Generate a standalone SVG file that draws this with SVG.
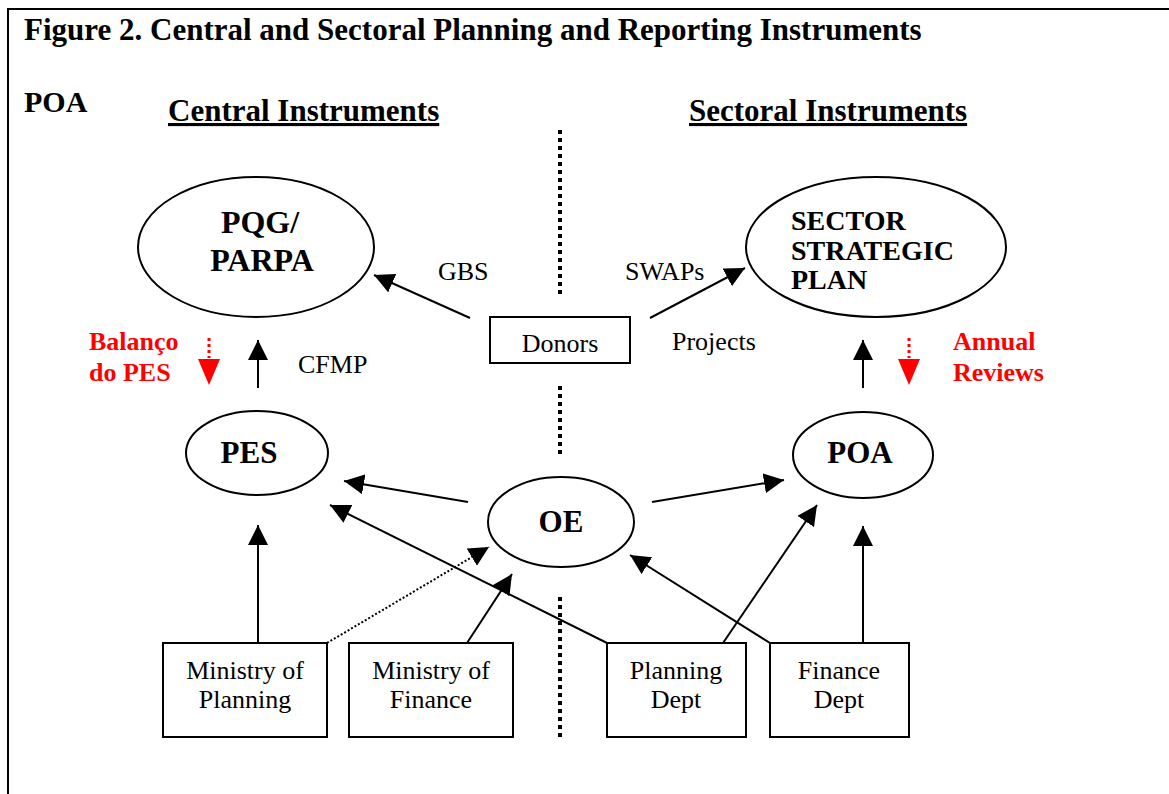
<svg xmlns="http://www.w3.org/2000/svg" width="1169" height="794" viewBox="0 0 1169 794">
  <style>
    text { font-family: "Liberation Serif", "Times New Roman", serif; fill: #000; }
    .title { font-size: 31px; font-weight: bold; }
    .head { font-size: 31px; font-weight: bold; text-decoration: underline; }
    .big { font-size: 31px; font-weight: bold; }
    .mid { font-size: 28px; font-weight: bold; }
    .lbl { font-size: 26px; }
    .red { font-size: 26px; font-weight: bold; fill: #ff0000; }
    .shape { fill: #fff; stroke: #000; stroke-width: 2; }
    .conn { stroke: #000; stroke-width: 2; fill: none; }
    .divider { stroke: #000; stroke-width: 4; stroke-dasharray: 4 4; fill: none; }
  </style>
  <defs>
    <marker id="arrow" viewBox="0 0 20 20" refX="20" refY="10" markerWidth="20" markerHeight="20" markerUnits="userSpaceOnUse" orient="auto">
      <path d="M0,0 L20,10 L0,20 z" fill="#000"/>
    </marker>
  </defs>

  <rect width="1169" height="794" fill="#fff"/>

  <!-- page frame -->
  <path d="M8,794 L8,9 L1169,9" fill="none" stroke="#000" stroke-width="2"/>

  <text class="title" x="24" y="40">Figure 2. Central and Sectoral Planning and Reporting Instruments</text>
  <text class="big" x="24" y="112" style="font-size:30px">POA</text>
  <text class="head" x="168" y="121">Central Instruments</text>
  <text class="head" x="689" y="121">Sectoral Instruments</text>

  <!-- central / sectoral divider -->
  <g id="divider">
    <line class="divider" x1="560" y1="130" x2="560" y2="296"/>
    <line class="divider" x1="560" y1="386" x2="560" y2="456"/>
    <line class="divider" x1="560" y1="597" x2="560" y2="737"/>
  </g>

  <!-- connectors -->
  <g id="connectors">
    <line class="conn" x1="470" y1="318" x2="374" y2="275" marker-end="url(#arrow)"/>
    <line class="conn" x1="650" y1="318" x2="745" y2="268" marker-end="url(#arrow)"/>
    <line class="conn" x1="258" y1="388" x2="258" y2="340" marker-end="url(#arrow)"/>
    <line class="conn" x1="863" y1="388" x2="863" y2="340" marker-end="url(#arrow)"/>
    <line class="conn" x1="468" y1="502" x2="344" y2="481" marker-end="url(#arrow)"/>
    <line class="conn" x1="652" y1="502" x2="784" y2="480" marker-end="url(#arrow)"/>
    <line class="conn" x1="607" y1="643" x2="330" y2="505" marker-end="url(#arrow)"/>
    <line class="conn" x1="258" y1="643" x2="258" y2="525" marker-end="url(#arrow)"/>
    <line class="conn" x1="327" y1="643" x2="489" y2="547" stroke-dasharray="2 2" marker-end="url(#arrow)"/>
    <line class="conn" x1="467" y1="643" x2="512" y2="574" marker-end="url(#arrow)"/>
    <line class="conn" x1="770" y1="643" x2="630" y2="555" marker-end="url(#arrow)"/>
    <line class="conn" x1="723" y1="643" x2="817" y2="505" marker-end="url(#arrow)"/>
    <line class="conn" x1="863" y1="643" x2="863" y2="526" marker-end="url(#arrow)"/>
    <!-- red review arrows -->
    <line x1="209" y1="338" x2="209" y2="358" stroke="#ff0000" stroke-width="3" stroke-dasharray="3 3"/>
    <path d="M198,359 L220,359 L209,385 z" fill="#ff0000"/>
    <line x1="909" y1="338" x2="909" y2="358" stroke="#ff0000" stroke-width="3" stroke-dasharray="3 3"/>
    <path d="M898,359 L920,359 L909,385 z" fill="#ff0000"/>
  </g>

  <g id="labels">
    <text class="lbl" x="438" y="280">GBS</text>
    <text class="lbl" x="625" y="280">SWAPs</text>
    <text class="lbl" x="672" y="350">Projects</text>
    <text class="lbl" x="298" y="373">CFMP</text>
    <text class="red" x="89" y="350">Balanço</text>
    <text class="red" x="89" y="381">do PES</text>
    <text class="red" x="953" y="350">Annual</text>
    <text class="red" x="953" y="381">Reviews</text>
  </g>

  <g id="pqg-parpa">
    <ellipse class="shape" cx="256" cy="247" rx="118" ry="70"/>
    <text class="big" x="260" y="233" text-anchor="middle" style="font-size:32px">PQG/</text>
    <text class="big" x="262" y="271" text-anchor="middle" style="font-size:32px">PARPA</text>
  </g>

  <g id="sector-strategic-plan">
    <ellipse class="shape" cx="876" cy="247" rx="130" ry="70"/>
    <text class="mid" x="791" y="230">SECTOR</text>
    <text class="mid" x="791" y="260">STRATEGIC</text>
    <text class="mid" x="791" y="289">PLAN</text>
  </g>

  <g id="donors">
    <rect class="shape" x="490" y="317" width="140" height="46"/>
    <text class="lbl" x="560" y="352" text-anchor="middle">Donors</text>
  </g>

  <g id="pes">
    <ellipse class="shape" cx="257" cy="453" rx="71" ry="42"/>
    <text class="big" x="249" y="463" text-anchor="middle">PES</text>
  </g>

  <g id="poa">
    <ellipse class="shape" cx="863" cy="455" rx="70" ry="43"/>
    <text class="big" x="860" y="463" text-anchor="middle">POA</text>
  </g>

  <g id="oe">
    <ellipse class="shape" cx="561" cy="522" rx="73" ry="45"/>
    <text class="big" x="561" y="532" text-anchor="middle">OE</text>
  </g>

  <g id="ministry-planning">
    <rect class="shape" x="163" y="643" width="164" height="94"/>
    <text class="lbl" x="245" y="679" text-anchor="middle">Ministry of</text>
    <text class="lbl" x="245" y="708" text-anchor="middle">Planning</text>
  </g>

  <g id="ministry-finance">
    <rect class="shape" x="349" y="643" width="164" height="94"/>
    <text class="lbl" x="431" y="679" text-anchor="middle">Ministry of</text>
    <text class="lbl" x="431" y="708" text-anchor="middle">Finance</text>
  </g>

  <g id="planning-dept">
    <rect class="shape" x="607" y="643" width="139" height="94"/>
    <text class="lbl" x="676" y="679" text-anchor="middle">Planning</text>
    <text class="lbl" x="676" y="708" text-anchor="middle">Dept</text>
  </g>

  <g id="finance-dept">
    <rect class="shape" x="770" y="643" width="139" height="94"/>
    <text class="lbl" x="839" y="679" text-anchor="middle">Finance</text>
    <text class="lbl" x="839" y="708" text-anchor="middle">Dept</text>
  </g>
</svg>
